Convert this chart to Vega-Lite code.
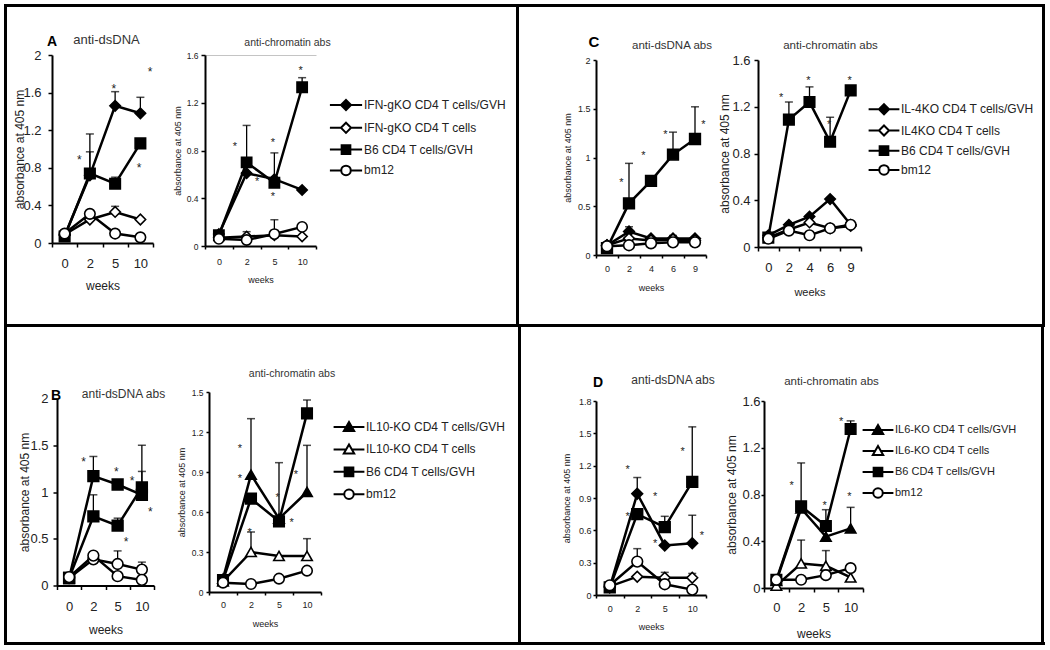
{
"$schema":"https://vega.github.io/schema/vega-lite/v6.json",
"padding":{"left":4,"top":4,"right":0,"bottom":0},
"background":"white",
"config":{
 "font":"Liberation Sans",
 "view":{"stroke":null},
 "concat":{"spacing":0},
 "axis":{"domainColor":"black","domainWidth":2,"tickColor":"black","tickWidth":1.5,"labelColor":"#222","titleColor":"#222","titleFontWeight":"normal","grid":false,"labelFont":"Liberation Sans","titleFont":"Liberation Sans","labelOverlap":false},
 "legend":{"labelFont":"Liberation Sans"},
 "title":{"font":"Liberation Sans"},
 "text":{"font":"Liberation Sans"}
},
"datasets":{
"obs":[
{"panel":"A","assay":"ds","series":"IFN-gKO CD4 T cells/GVH","week":0,"value":0.08},
{"panel":"A","assay":"ds","series":"IFN-gKO CD4 T cells/GVH","week":2,"value":0.72,"upper":0.97},
{"panel":"A","assay":"ds","series":"IFN-gKO CD4 T cells/GVH","week":5,"value":1.46,"upper":1.61},
{"panel":"A","assay":"ds","series":"IFN-gKO CD4 T cells/GVH","week":10,"value":1.38,"upper":1.55},
{"panel":"A","assay":"ds","series":"IFN-gKO CD4 T cells","week":0,"value":0.09},
{"panel":"A","assay":"ds","series":"IFN-gKO CD4 T cells","week":2,"value":0.25},
{"panel":"A","assay":"ds","series":"IFN-gKO CD4 T cells","week":5,"value":0.33,"upper":0.39},
{"panel":"A","assay":"ds","series":"IFN-gKO CD4 T cells","week":10,"value":0.25},
{"panel":"A","assay":"ds","series":"B6 CD4 T cells/GVH","week":0,"value":0.07},
{"panel":"A","assay":"ds","series":"B6 CD4 T cells/GVH","week":2,"value":0.74,"upper":1.16},
{"panel":"A","assay":"ds","series":"B6 CD4 T cells/GVH","week":5,"value":0.63,"upper":0.7},
{"panel":"A","assay":"ds","series":"B6 CD4 T cells/GVH","week":10,"value":1.06},
{"panel":"A","assay":"ds","series":"bm12","week":0,"value":0.1},
{"panel":"A","assay":"ds","series":"bm12","week":2,"value":0.31},
{"panel":"A","assay":"ds","series":"bm12","week":5,"value":0.1},
{"panel":"A","assay":"ds","series":"bm12","week":10,"value":0.06},
{"panel":"A","assay":"ch","series":"IFN-gKO CD4 T cells/GVH","week":0,"value":0.1},
{"panel":"A","assay":"ch","series":"IFN-gKO CD4 T cells/GVH","week":2,"value":0.61},
{"panel":"A","assay":"ch","series":"IFN-gKO CD4 T cells/GVH","week":5,"value":0.56},
{"panel":"A","assay":"ch","series":"IFN-gKO CD4 T cells/GVH","week":10,"value":0.47},
{"panel":"A","assay":"ch","series":"IFN-gKO CD4 T cells","week":0,"value":0.07},
{"panel":"A","assay":"ch","series":"IFN-gKO CD4 T cells","week":2,"value":0.08,"upper":0.12},
{"panel":"A","assay":"ch","series":"IFN-gKO CD4 T cells","week":5,"value":0.09},
{"panel":"A","assay":"ch","series":"IFN-gKO CD4 T cells","week":10,"value":0.08},
{"panel":"A","assay":"ch","series":"B6 CD4 T cells/GVH","week":0,"value":0.09},
{"panel":"A","assay":"ch","series":"B6 CD4 T cells/GVH","week":2,"value":0.7,"upper":1.01},
{"panel":"A","assay":"ch","series":"B6 CD4 T cells/GVH","week":5,"value":0.53,"upper":0.78},
{"panel":"A","assay":"ch","series":"B6 CD4 T cells/GVH","week":10,"value":1.33,"upper":1.41},
{"panel":"A","assay":"ch","series":"bm12","week":0,"value":0.06},
{"panel":"A","assay":"ch","series":"bm12","week":2,"value":0.05},
{"panel":"A","assay":"ch","series":"bm12","week":5,"value":0.1,"upper":0.22},
{"panel":"A","assay":"ch","series":"bm12","week":10,"value":0.16},
{"panel":"C","assay":"ds","series":"IL-4KO CD4 T cells/GVH","week":0,"value":0.1},
{"panel":"C","assay":"ds","series":"IL-4KO CD4 T cells/GVH","week":2,"value":0.24,"upper":0.29},
{"panel":"C","assay":"ds","series":"IL-4KO CD4 T cells/GVH","week":4,"value":0.17},
{"panel":"C","assay":"ds","series":"IL-4KO CD4 T cells/GVH","week":6,"value":0.17,"upper":0.2},
{"panel":"C","assay":"ds","series":"IL-4KO CD4 T cells/GVH","week":9,"value":0.17},
{"panel":"C","assay":"ds","series":"IL4KO CD4 T cells","week":0,"value":0.1},
{"panel":"C","assay":"ds","series":"IL4KO CD4 T cells","week":2,"value":0.17},
{"panel":"C","assay":"ds","series":"IL4KO CD4 T cells","week":4,"value":0.15},
{"panel":"C","assay":"ds","series":"IL4KO CD4 T cells","week":6,"value":0.16},
{"panel":"C","assay":"ds","series":"IL4KO CD4 T cells","week":9,"value":0.15},
{"panel":"C","assay":"ds","series":"B6 CD4 T cells/GVH","week":0,"value":0.07},
{"panel":"C","assay":"ds","series":"B6 CD4 T cells/GVH","week":2,"value":0.53,"upper":0.94},
{"panel":"C","assay":"ds","series":"B6 CD4 T cells/GVH","week":4,"value":0.76},
{"panel":"C","assay":"ds","series":"B6 CD4 T cells/GVH","week":6,"value":1.03,"upper":1.26},
{"panel":"C","assay":"ds","series":"B6 CD4 T cells/GVH","week":9,"value":1.19,"upper":1.52},
{"panel":"C","assay":"ds","series":"bm12","week":0,"value":0.09},
{"panel":"C","assay":"ds","series":"bm12","week":2,"value":0.1},
{"panel":"C","assay":"ds","series":"bm12","week":4,"value":0.12},
{"panel":"C","assay":"ds","series":"bm12","week":6,"value":0.13},
{"panel":"C","assay":"ds","series":"bm12","week":9,"value":0.13},
{"panel":"C","assay":"ch","series":"IL-4KO CD4 T cells/GVH","week":0,"value":0.1},
{"panel":"C","assay":"ch","series":"IL-4KO CD4 T cells/GVH","week":2,"value":0.19},
{"panel":"C","assay":"ch","series":"IL-4KO CD4 T cells/GVH","week":4,"value":0.26},
{"panel":"C","assay":"ch","series":"IL-4KO CD4 T cells/GVH","week":6,"value":0.41},
{"panel":"C","assay":"ch","series":"IL-4KO CD4 T cells/GVH","week":9,"value":0.19},
{"panel":"C","assay":"ch","series":"IL4KO CD4 T cells","week":0,"value":0.08},
{"panel":"C","assay":"ch","series":"IL4KO CD4 T cells","week":2,"value":0.15},
{"panel":"C","assay":"ch","series":"IL4KO CD4 T cells","week":4,"value":0.21},
{"panel":"C","assay":"ch","series":"IL4KO CD4 T cells","week":6,"value":0.16},
{"panel":"C","assay":"ch","series":"IL4KO CD4 T cells","week":9,"value":0.18},
{"panel":"C","assay":"ch","series":"B6 CD4 T cells/GVH","week":0,"value":0.08},
{"panel":"C","assay":"ch","series":"B6 CD4 T cells/GVH","week":2,"value":1.09,"upper":1.24},
{"panel":"C","assay":"ch","series":"B6 CD4 T cells/GVH","week":4,"value":1.24,"upper":1.37},
{"panel":"C","assay":"ch","series":"B6 CD4 T cells/GVH","week":6,"value":0.9,"upper":1.11},
{"panel":"C","assay":"ch","series":"B6 CD4 T cells/GVH","week":9,"value":1.34},
{"panel":"C","assay":"ch","series":"bm12","week":0,"value":0.07},
{"panel":"C","assay":"ch","series":"bm12","week":2,"value":0.14},
{"panel":"C","assay":"ch","series":"bm12","week":4,"value":0.1},
{"panel":"C","assay":"ch","series":"bm12","week":6,"value":0.16},
{"panel":"C","assay":"ch","series":"bm12","week":9,"value":0.19},
{"panel":"B","assay":"ds","series":"IL10-KO CD4 T cells/GVH","week":0,"value":0.08},
{"panel":"B","assay":"ds","series":"IL10-KO CD4 T cells/GVH","week":2,"value":1.17,"upper":1.38},
{"panel":"B","assay":"ds","series":"IL10-KO CD4 T cells/GVH","week":5,"value":1.08},
{"panel":"B","assay":"ds","series":"IL10-KO CD4 T cells/GVH","week":10,"value":0.97,"upper":1.22},
{"panel":"B","assay":"ds","series":"IL10-KO CD4 T cells","week":0,"value":0.08},
{"panel":"B","assay":"ds","series":"IL10-KO CD4 T cells","week":2,"value":0.28},
{"panel":"B","assay":"ds","series":"IL10-KO CD4 T cells","week":5,"value":0.23,"upper":0.37},
{"panel":"B","assay":"ds","series":"IL10-KO CD4 T cells","week":10,"value":0.17,"upper":0.25},
{"panel":"B","assay":"ds","series":"B6 CD4 T cells/GVH","week":0,"value":0.08},
{"panel":"B","assay":"ds","series":"B6 CD4 T cells/GVH","week":2,"value":0.74,"upper":0.97},
{"panel":"B","assay":"ds","series":"B6 CD4 T cells/GVH","week":5,"value":0.64,"upper":0.72},
{"panel":"B","assay":"ds","series":"B6 CD4 T cells/GVH","week":10,"value":1.05,"upper":1.5},
{"panel":"B","assay":"ds","series":"bm12","week":0,"value":0.09},
{"panel":"B","assay":"ds","series":"bm12","week":2,"value":0.32},
{"panel":"B","assay":"ds","series":"bm12","week":5,"value":0.1},
{"panel":"B","assay":"ds","series":"bm12","week":10,"value":0.06},
{"panel":"B","assay":"ch","series":"IL10-KO CD4 T cells/GVH","week":0,"value":0.1},
{"panel":"B","assay":"ch","series":"IL10-KO CD4 T cells/GVH","week":2,"value":0.88,"upper":1.3},
{"panel":"B","assay":"ch","series":"IL10-KO CD4 T cells/GVH","week":5,"value":0.55},
{"panel":"B","assay":"ch","series":"IL10-KO CD4 T cells/GVH","week":10,"value":0.75,"upper":1.1},
{"panel":"B","assay":"ch","series":"IL10-KO CD4 T cells","week":0,"value":0.08},
{"panel":"B","assay":"ch","series":"IL10-KO CD4 T cells","week":2,"value":0.3,"upper":0.45},
{"panel":"B","assay":"ch","series":"IL10-KO CD4 T cells","week":5,"value":0.27},
{"panel":"B","assay":"ch","series":"IL10-KO CD4 T cells","week":10,"value":0.27,"upper":0.4},
{"panel":"B","assay":"ch","series":"B6 CD4 T cells/GVH","week":0,"value":0.09},
{"panel":"B","assay":"ch","series":"B6 CD4 T cells/GVH","week":2,"value":0.7},
{"panel":"B","assay":"ch","series":"B6 CD4 T cells/GVH","week":5,"value":0.53,"upper":0.97},
{"panel":"B","assay":"ch","series":"B6 CD4 T cells/GVH","week":10,"value":1.34,"upper":1.44},
{"panel":"B","assay":"ch","series":"bm12","week":0,"value":0.07},
{"panel":"B","assay":"ch","series":"bm12","week":2,"value":0.06},
{"panel":"B","assay":"ch","series":"bm12","week":5,"value":0.1},
{"panel":"B","assay":"ch","series":"bm12","week":10,"value":0.16},
{"panel":"D","assay":"ds","series":"IL6-KO CD4 T cells/GVH","week":0,"value":0.07},
{"panel":"D","assay":"ds","series":"IL6-KO CD4 T cells/GVH","week":2,"value":0.94,"upper":1.09},
{"panel":"D","assay":"ds","series":"IL6-KO CD4 T cells/GVH","week":5,"value":0.46},
{"panel":"D","assay":"ds","series":"IL6-KO CD4 T cells/GVH","week":10,"value":0.48,"upper":0.74},
{"panel":"D","assay":"ds","series":"IL6-KO CD4 T cells","week":0,"value":0.08},
{"panel":"D","assay":"ds","series":"IL6-KO CD4 T cells","week":2,"value":0.17},
{"panel":"D","assay":"ds","series":"IL6-KO CD4 T cells","week":5,"value":0.16,"upper":0.21},
{"panel":"D","assay":"ds","series":"IL6-KO CD4 T cells","week":10,"value":0.16,"upper":0.2},
{"panel":"D","assay":"ds","series":"B6 CD4 T cells/GVH","week":0,"value":0.07},
{"panel":"D","assay":"ds","series":"B6 CD4 T cells/GVH","week":2,"value":0.75},
{"panel":"D","assay":"ds","series":"B6 CD4 T cells/GVH","week":5,"value":0.63,"upper":0.73},
{"panel":"D","assay":"ds","series":"B6 CD4 T cells/GVH","week":10,"value":1.05,"upper":1.56},
{"panel":"D","assay":"ds","series":"bm12","week":0,"value":0.09},
{"panel":"D","assay":"ds","series":"bm12","week":2,"value":0.31,"upper":0.43},
{"panel":"D","assay":"ds","series":"bm12","week":5,"value":0.1},
{"panel":"D","assay":"ds","series":"bm12","week":10,"value":0.05},
{"panel":"D","assay":"ch","series":"IL6-KO CD4 T cells/GVH","week":0,"value":0.06},
{"panel":"D","assay":"ch","series":"IL6-KO CD4 T cells/GVH","week":2,"value":0.68},
{"panel":"D","assay":"ch","series":"IL6-KO CD4 T cells/GVH","week":5,"value":0.44},
{"panel":"D","assay":"ch","series":"IL6-KO CD4 T cells/GVH","week":10,"value":0.51,"upper":0.69},
{"panel":"D","assay":"ch","series":"IL6-KO CD4 T cells","week":0,"value":0.02},
{"panel":"D","assay":"ch","series":"IL6-KO CD4 T cells","week":2,"value":0.21,"upper":0.41},
{"panel":"D","assay":"ch","series":"IL6-KO CD4 T cells","week":5,"value":0.19,"upper":0.32},
{"panel":"D","assay":"ch","series":"IL6-KO CD4 T cells","week":10,"value":0.09},
{"panel":"D","assay":"ch","series":"B6 CD4 T cells/GVH","week":0,"value":0.07},
{"panel":"D","assay":"ch","series":"B6 CD4 T cells/GVH","week":2,"value":0.7,"upper":1.07},
{"panel":"D","assay":"ch","series":"B6 CD4 T cells/GVH","week":5,"value":0.53,"upper":0.67},
{"panel":"D","assay":"ch","series":"B6 CD4 T cells/GVH","week":10,"value":1.36,"upper":1.43},
{"panel":"D","assay":"ch","series":"bm12","week":0,"value":0.07},
{"panel":"D","assay":"ch","series":"bm12","week":2,"value":0.07},
{"panel":"D","assay":"ch","series":"bm12","week":5,"value":0.11},
{"panel":"D","assay":"ch","series":"bm12","week":10,"value":0.17}
],
"stars":[
{"panel":"A","assay":"ds","week":2,"side":"l","value":0.9},
{"panel":"A","assay":"ds","week":5,"side":"c","value":1.66},
{"panel":"A","assay":"ds","week":10,"side":"r","value":1.84},
{"panel":"A","assay":"ds","week":10,"side":"c","value":0.82},
{"panel":"A","assay":"ch","week":2,"side":"l","value":0.85},
{"panel":"A","assay":"ch","week":2,"side":"r","value":0.55},
{"panel":"A","assay":"ch","week":5,"side":"c","value":0.88},
{"panel":"A","assay":"ch","week":5,"side":"c","value":0.43},
{"panel":"A","assay":"ch","week":10,"side":"c","value":1.48},
{"panel":"C","assay":"ds","week":2,"side":"l","value":0.76},
{"panel":"C","assay":"ds","week":4,"side":"l","value":1.04},
{"panel":"C","assay":"ds","week":6,"side":"l","value":1.25},
{"panel":"C","assay":"ds","week":9,"side":"r","value":1.35},
{"panel":"C","assay":"ch","week":2,"side":"l","value":1.29},
{"panel":"C","assay":"ch","week":4,"side":"c","value":1.44},
{"panel":"C","assay":"ch","week":6,"side":"c","value":1.06},
{"panel":"C","assay":"ch","week":9,"side":"c","value":1.44},
{"panel":"B","assay":"ds","week":2,"side":"l","value":1.34},
{"panel":"B","assay":"ds","week":5,"side":"c","value":1.24},
{"panel":"B","assay":"ds","week":10,"side":"l","value":1.14},
{"panel":"B","assay":"ds","week":10,"side":"r","value":0.81},
{"panel":"B","assay":"ds","week":5,"side":"r","value":0.49},
{"panel":"B","assay":"ch","week":2,"side":"l","value":1.09},
{"panel":"B","assay":"ch","week":2,"side":"l","value":0.86},
{"panel":"B","assay":"ch","week":2,"side":"c","value":0.46},
{"panel":"B","assay":"ch","week":5,"side":"c","value":0.72},
{"panel":"B","assay":"ch","week":5,"side":"r","value":0.53},
{"panel":"B","assay":"ch","week":10,"side":"l","value":0.89},
{"panel":"D","assay":"ds","week":2,"side":"l","value":1.18},
{"panel":"D","assay":"ds","week":2,"side":"l","value":0.74},
{"panel":"D","assay":"ds","week":5,"side":"l","value":0.93},
{"panel":"D","assay":"ds","week":5,"side":"l","value":0.49},
{"panel":"D","assay":"ds","week":10,"side":"l","value":1.35},
{"panel":"D","assay":"ds","week":10,"side":"r","value":0.57},
{"panel":"D","assay":"ch","week":2,"side":"l","value":0.89},
{"panel":"D","assay":"ch","week":5,"side":"c","value":0.72},
{"panel":"D","assay":"ch","week":10,"side":"l","value":1.44},
{"panel":"D","assay":"ch","week":10,"side":"c","value":0.8}
]
},
"spacing":0,
"vconcat":[
{"width":1041,"height":3,"view":{"fill":"black","stroke":null},"data":{"values":[]},"mark":"rule","encoding":{}},
{"spacing":0,"hconcat":[
 {"width":3,"height":317,"view":{"fill":"black","stroke":null},"data":{"values":[]},"mark":"rule","encoding":{}},
 {"width":6,"height":1,"data":{"values":[]},"mark":"rule","encoding":{}},
 {"spacing":0,"vconcat":[
  {"width":1,"height":26,"data":{"values":[]},"mark":"rule","encoding":{}},
  {"spacing":52,"bounds":"flush","center":false,"hconcat":[
   {"width":101,"height":188,
    "title":{"text":"anti-dsDNA","fontSize":13,"fontWeight":"normal","color":"#333","frame":"group","anchor":"middle","offset":-12,"dx":4},
    "data":{"name":"obs"},
    "transform":[{"filter":"datum.panel==='A' && datum.assay==='ds'"}],
    "encoding":{
     "x":{"field":"week","type":"ordinal","title":"weeks","bandPosition":0.5,"scale":{"type":"band","paddingInner":0,"paddingOuter":0},"axis":{"title":"weeks","labelAngle":0,"tickBand":"extent","tickSize":4,"labelPadding":10,"labelFontSize":13,"titleFontSize":12,"titlePadding":10}},
     "y":{"field":"value","type":"quantitative","title":"absorbance at 405 nm","scale":{"domain":[0,2],"nice":false},"axis":{"title":"absorbance at 405 nm","values":[0,0.4,0.8,1.2,1.6,2],"format":"~g","tickSize":4,"labelPadding":7,"labelFontSize":13,"titleFontSize":12,"titlePadding":-4}}
    },
    "layer":[
     {"transform":[{"filter":"isValid(datum.upper)"}],"mark":{"type":"rule","color":"black","strokeWidth":1.3},"encoding":{"y2":{"field":"upper"}}},
     {"transform":[{"filter":"isValid(datum.upper)"}],"mark":{"type":"tick","color":"black","thickness":1.5,"size":8},"encoding":{"y":{"field":"upper","type":"quantitative","title":"absorbance at 405 nm"}}},
     {"mark":{"type":"line","color":"black","strokeWidth":2.5},"encoding":{"detail":{"field":"series"}}},
     {"mark":{"type":"point","stroke":"black","strokeWidth":1.6,"opacity":1,"size":110},"encoding":{
       "shape":{"field":"series","type":"nominal","scale":{"domain":["IFN-gKO CD4 T cells/GVH","IFN-gKO CD4 T cells","B6 CD4 T cells/GVH","bm12"],"range":["diamond","diamond","square","circle"]},"legend":null},
       "fill":{"field":"series","type":"nominal","scale":{"domain":["IFN-gKO CD4 T cells/GVH","IFN-gKO CD4 T cells","B6 CD4 T cells/GVH","bm12"],"range":["black","white","black","white"]},"legend":null}}},
     {"data":{"name":"stars"},"transform":[{"filter":"datum.panel==='A' && datum.assay==='ds' && datum.side==='l'"}],"mark":{"type":"text","text":"*","fontSize":12,"color":"#222","baseline":"middle","dy":2},"encoding":{"x":{"field":"week","type":"ordinal","title":"weeks","bandPosition":0.08}}},
     {"data":{"name":"stars"},"transform":[{"filter":"datum.panel==='A' && datum.assay==='ds' && datum.side==='c'"}],"mark":{"type":"text","text":"*","fontSize":12,"color":"#222","baseline":"middle","dy":2},"encoding":{"x":{"field":"week","type":"ordinal","title":"weeks","bandPosition":0.45}}},
     {"data":{"name":"stars"},"transform":[{"filter":"datum.panel==='A' && datum.assay==='ds' && datum.side==='r'"}],"mark":{"type":"text","text":"*","fontSize":12,"color":"#222","baseline":"middle","dy":2},"encoding":{"x":{"field":"week","type":"ordinal","title":"weeks","bandPosition":0.88}}},
     {"transform":[{"filter":"datum.week===0 && datum.series==='bm12'"}],"mark":{"type":"text","text":"A","fontSize":14,"fontWeight":"bold","color":"black","baseline":"middle","align":"center","dx":0},"encoding":{"x":{"field":"week","type":"ordinal","title":"weeks","bandPosition":0},"y":{"datum":2.14,"title":"absorbance at 405 nm"}}}
    ]},
   {"width":111,"height":191,
    "title":{"text":"anti-chromatin abs","fontSize":10.5,"fontWeight":"normal","color":"#333","frame":"group","anchor":"middle","offset":2.75,"dx":27},
    "data":{"name":"obs"},
    "transform":[{"filter":"datum.panel==='A' && datum.assay==='ch'"}],
    "encoding":{
     "x":{"field":"week","type":"ordinal","title":"weeks","bandPosition":0.5,"scale":{"type":"band","paddingInner":0,"paddingOuter":0},"axis":{"title":"weeks","labelAngle":0,"tickBand":"extent","tickSize":3,"labelPadding":8,"labelFontSize":9,"titleFontSize":9,"titlePadding":9}},
     "y":{"field":"value","type":"quantitative","title":"absorbance at 405 nm","scale":{"domain":[0,1.6],"nice":false},"axis":{"title":"absorbance at 405 nm","values":[0,0.4,0.8,1.2,1.6],"format":"~g","tickSize":4,"labelPadding":3,"labelFontSize":8.5,"titleFontSize":9,"titlePadding":4,"grid":true,"gridColor":"#c4c4c4","gridWidth":1,"gridOpacity":{"condition":{"test":"datum.value === 1.6","value":1},"value":0}}}
    },
    "resolve":{"scale":{"shape":"independent","fill":"independent"}},
    "layer":[
     {"transform":[{"filter":"isValid(datum.upper)"}],"mark":{"type":"rule","color":"black","strokeWidth":1.3},"encoding":{"y2":{"field":"upper"}}},
     {"transform":[{"filter":"isValid(datum.upper)"}],"mark":{"type":"tick","color":"black","thickness":1.5,"size":8},"encoding":{"y":{"field":"upper","type":"quantitative","title":"absorbance at 405 nm"}}},
     {"mark":{"type":"line","color":"black","strokeWidth":2.5},"encoding":{"detail":{"field":"series"}}},
     {"mark":{"type":"point","stroke":"black","strokeWidth":1.6,"opacity":1,"size":105},"encoding":{
       "shape":{"field":"series","type":"nominal","scale":{"domain":["IFN-gKO CD4 T cells/GVH","IFN-gKO CD4 T cells","B6 CD4 T cells/GVH","bm12"],"range":["diamond","diamond","square","circle"]},"legend":null},
       "fill":{"field":"series","type":"nominal","scale":{"domain":["IFN-gKO CD4 T cells/GVH","IFN-gKO CD4 T cells","B6 CD4 T cells/GVH","bm12"],"range":["black","white","black","white"]},"legend":null}}},
     {"data":{"name":"stars"},"transform":[{"filter":"datum.panel==='A' && datum.assay==='ch' && datum.side==='l'"}],"mark":{"type":"text","text":"*","fontSize":11,"color":"#222","baseline":"middle","dy":2},"encoding":{"x":{"field":"week","type":"ordinal","title":"weeks","bandPosition":0.08}}},
     {"data":{"name":"stars"},"transform":[{"filter":"datum.panel==='A' && datum.assay==='ch' && datum.side==='c'"}],"mark":{"type":"text","text":"*","fontSize":11,"color":"#222","baseline":"middle","dy":2},"encoding":{"x":{"field":"week","type":"ordinal","title":"weeks","bandPosition":0.45}}},
     {"data":{"name":"stars"},"transform":[{"filter":"datum.panel==='A' && datum.assay==='ch' && datum.side==='r'"}],"mark":{"type":"text","text":"*","fontSize":11,"color":"#222","baseline":"middle","dy":2},"encoding":{"x":{"field":"week","type":"ordinal","title":"weeks","bandPosition":0.88}}},
     {"mark":{"type":"point","opacity":0,"stroke":"black"},"encoding":{
       "shape":{"field":"series","type":"nominal","scale":{"domain":["IFN-gKO CD4 T cells/GVH","IFN-gKO CD4 T cells","B6 CD4 T cells/GVH","bm12"],"range":["M-2.3,0L-0.72,0M0.72,0L2.3,0M0,-0.72L0.72,0L0,0.72L-0.72,0Z","M-2.3,0L-0.72,0M0.72,0L2.3,0M0,-0.72L0.72,0L0,0.72L-0.72,0Z","M-2.3,0L-0.62,0M0.62,0L2.3,0M-0.62,-0.62L0.62,-0.62L0.62,0.62L-0.62,0.62Z","M-2.3,0L-0.68,0M0.68,0L2.3,0M-0.68,0A0.68,0.68,0,1,1,0.68,0A0.68,0.68,0,1,1,-0.68,0Z"]},
         "legend":{"title":null,"orient":"none","legendX":133,"legendY":42,"symbolSize":196,"symbolStrokeWidth":2,"symbolStrokeColor":"black","symbolOpacity":1,"labelFontSize":12,"labelColor":"#222","labelOffset":10,"rowPadding":2.8,"labelLimit":400,"padding":0,"encode":{"symbols":{"update":{"stroke":{"value":"black"},"strokeWidth":{"value":2},"opacity":{"value":1}}}}}},
       "fill":{"field":"series","type":"nominal","scale":{"domain":["IFN-gKO CD4 T cells/GVH","IFN-gKO CD4 T cells","B6 CD4 T cells/GVH","bm12"],"range":["black","white","black","white"]},
         "legend":{"title":null,"orient":"none","legendX":133,"legendY":42,"symbolSize":196,"symbolStrokeWidth":2,"symbolStrokeColor":"black","symbolOpacity":1,"labelFontSize":12,"labelColor":"#222","labelOffset":10,"rowPadding":2.8,"labelLimit":400,"padding":0,"encode":{"symbols":{"update":{"stroke":{"value":"black"},"strokeWidth":{"value":2},"opacity":{"value":1}}}}}}}}
    ]}
  ]}
 ]},
 {"width":9,"height":1,"data":{"values":[]},"mark":"rule","encoding":{}},
 {"width":3,"height":317,"view":{"fill":"black","stroke":null},"data":{"values":[]},"mark":"rule","encoding":{}},
 {"width":44,"height":1,"data":{"values":[]},"mark":"rule","encoding":{}},
 {"spacing":0,"vconcat":[
  {"width":1,"height":28,"data":{"values":[]},"mark":"rule","encoding":{}},
  {"spacing":52,"bounds":"flush","center":false,"hconcat":[
   {"width":110,"height":195,
    "title":{"text":"anti-dsDNA abs","fontSize":11.5,"fontWeight":"normal","color":"#333","frame":"group","anchor":"middle","offset":-16.5,"dx":21},
    "data":{"name":"obs"},
    "transform":[{"filter":"datum.panel==='C' && datum.assay==='ds'"}],
    "encoding":{
     "x":{"field":"week","type":"ordinal","title":"weeks","bandPosition":0.5,"scale":{"type":"band","paddingInner":0,"paddingOuter":0},"axis":{"title":"weeks","labelAngle":0,"tickBand":"extent","tickSize":3,"labelPadding":6,"labelFontSize":9,"titleFontSize":9,"titlePadding":10}},
     "y":{"field":"value","type":"quantitative","title":"absorbance at 405 nm","scale":{"domain":[0,2],"nice":false},"axis":{"title":"absorbance at 405 nm","values":[0,0.5,1,1.5,2],"format":"~g","tickSize":3,"labelPadding":3,"labelFontSize":9,"titleFontSize":9,"titlePadding":5}}
    },
    "layer":[
     {"transform":[{"filter":"isValid(datum.upper)"}],"mark":{"type":"rule","color":"black","strokeWidth":1.3},"encoding":{"y2":{"field":"upper"}}},
     {"transform":[{"filter":"isValid(datum.upper)"}],"mark":{"type":"tick","color":"black","thickness":1.5,"size":8},"encoding":{"y":{"field":"upper","type":"quantitative","title":"absorbance at 405 nm"}}},
     {"mark":{"type":"line","color":"black","strokeWidth":2.5},"encoding":{"detail":{"field":"series"}}},
     {"mark":{"type":"point","stroke":"black","strokeWidth":1.6,"opacity":1,"size":115},"encoding":{
       "shape":{"field":"series","type":"nominal","scale":{"domain":["IL-4KO CD4 T cells/GVH","IL4KO CD4 T cells","B6 CD4 T cells/GVH","bm12"],"range":["diamond","diamond","square","circle"]},"legend":null},
       "fill":{"field":"series","type":"nominal","scale":{"domain":["IL-4KO CD4 T cells/GVH","IL4KO CD4 T cells","B6 CD4 T cells/GVH","bm12"],"range":["black","white","black","white"]},"legend":null}}},
     {"data":{"name":"stars"},"transform":[{"filter":"datum.panel==='C' && datum.assay==='ds' && datum.side==='l'"}],"mark":{"type":"text","text":"*","fontSize":11,"color":"#222","baseline":"middle","dy":2},"encoding":{"x":{"field":"week","type":"ordinal","title":"weeks","bandPosition":0.15}}},
     {"data":{"name":"stars"},"transform":[{"filter":"datum.panel==='C' && datum.assay==='ds' && datum.side==='c'"}],"mark":{"type":"text","text":"*","fontSize":11,"color":"#222","baseline":"middle","dy":2},"encoding":{"x":{"field":"week","type":"ordinal","title":"weeks","bandPosition":0.45}}},
     {"data":{"name":"stars"},"transform":[{"filter":"datum.panel==='C' && datum.assay==='ds' && datum.side==='r'"}],"mark":{"type":"text","text":"*","fontSize":11,"color":"#222","baseline":"middle","dy":2},"encoding":{"x":{"field":"week","type":"ordinal","title":"weeks","bandPosition":0.88}}},
     {"transform":[{"filter":"datum.week===0 && datum.series==='bm12'"}],"mark":{"type":"text","text":"C","fontSize":15,"fontWeight":"bold","color":"black","baseline":"middle","align":"center","dx":-2},"encoding":{"x":{"field":"week","type":"ordinal","title":"weeks","bandPosition":0},"y":{"datum":2.18,"title":"absorbance at 405 nm"}}}
    ]},
   {"width":103,"height":187,
    "title":{"text":"anti-chromatin abs","fontSize":11.5,"fontWeight":"normal","color":"#333","frame":"group","anchor":"middle","offset":3,"dx":21},
    "data":{"name":"obs"},
    "transform":[{"filter":"datum.panel==='C' && datum.assay==='ch'"}],
    "encoding":{
     "x":{"field":"week","type":"ordinal","title":"weeks","bandPosition":0.5,"scale":{"type":"band","paddingInner":0,"paddingOuter":0},"axis":{"title":"weeks","labelAngle":0,"tickBand":"extent","tickSize":4,"labelPadding":10,"labelFontSize":13,"titleFontSize":11,"titlePadding":12}},
     "y":{"field":"value","type":"quantitative","title":"absorbance at 405 nm","scale":{"domain":[0,1.6],"nice":false},"axis":{"title":"absorbance at 405 nm","values":[0,0.4,0.8,1.2,1.6],"format":"~g","tickSize":4,"labelPadding":4,"labelFontSize":13,"titleFontSize":12,"titlePadding":0}}
    },
    "resolve":{"scale":{"shape":"independent","fill":"independent"}},
    "layer":[
     {"transform":[{"filter":"isValid(datum.upper)"}],"mark":{"type":"rule","color":"black","strokeWidth":1.3},"encoding":{"y2":{"field":"upper"}}},
     {"transform":[{"filter":"isValid(datum.upper)"}],"mark":{"type":"tick","color":"black","thickness":1.5,"size":8},"encoding":{"y":{"field":"upper","type":"quantitative","title":"absorbance at 405 nm"}}},
     {"mark":{"type":"line","color":"black","strokeWidth":2.5},"encoding":{"detail":{"field":"series"}}},
     {"mark":{"type":"point","stroke":"black","strokeWidth":1.6,"opacity":1,"size":110},"encoding":{
       "shape":{"field":"series","type":"nominal","scale":{"domain":["IL-4KO CD4 T cells/GVH","IL4KO CD4 T cells","B6 CD4 T cells/GVH","bm12"],"range":["diamond","diamond","square","circle"]},"legend":null},
       "fill":{"field":"series","type":"nominal","scale":{"domain":["IL-4KO CD4 T cells/GVH","IL4KO CD4 T cells","B6 CD4 T cells/GVH","bm12"],"range":["black","white","black","white"]},"legend":null}}},
     {"data":{"name":"stars"},"transform":[{"filter":"datum.panel==='C' && datum.assay==='ch' && datum.side==='l'"}],"mark":{"type":"text","text":"*","fontSize":11,"color":"#222","baseline":"middle","dy":2},"encoding":{"x":{"field":"week","type":"ordinal","title":"weeks","bandPosition":0.12}}},
     {"data":{"name":"stars"},"transform":[{"filter":"datum.panel==='C' && datum.assay==='ch' && datum.side==='c'"}],"mark":{"type":"text","text":"*","fontSize":11,"color":"#222","baseline":"middle","dy":2},"encoding":{"x":{"field":"week","type":"ordinal","title":"weeks","bandPosition":0.45}}},
     {"mark":{"type":"point","opacity":0,"stroke":"black"},"encoding":{
       "shape":{"field":"series","type":"nominal","scale":{"domain":["IL-4KO CD4 T cells/GVH","IL4KO CD4 T cells","B6 CD4 T cells/GVH","bm12"],"range":["M-2.2,0L-0.72,0M0.72,0L2.2,0M0,-0.72L0.72,0L0,0.72L-0.72,0Z","M-2.2,0L-0.72,0M0.72,0L2.2,0M0,-0.72L0.72,0L0,0.72L-0.72,0Z","M-2.2,0L-0.62,0M0.62,0L2.2,0M-0.62,-0.62L0.62,-0.62L0.62,0.62L-0.62,0.62Z","M-2.2,0L-0.68,0M0.68,0L2.2,0M-0.68,0A0.68,0.68,0,1,1,0.68,0A0.68,0.68,0,1,1,-0.68,0Z"]},
         "legend":{"title":null,"orient":"none","legendX":118,"legendY":41.3,"symbolSize":196,"symbolStrokeWidth":2,"symbolStrokeColor":"black","symbolOpacity":1,"labelFontSize":12,"labelColor":"#222","labelOffset":9,"rowPadding":1.2,"labelLimit":400,"padding":0,"encode":{"symbols":{"update":{"stroke":{"value":"black"},"strokeWidth":{"value":2},"opacity":{"value":1}}}}}},
       "fill":{"field":"series","type":"nominal","scale":{"domain":["IL-4KO CD4 T cells/GVH","IL4KO CD4 T cells","B6 CD4 T cells/GVH","bm12"],"range":["black","white","black","white"]},
         "legend":{"title":null,"orient":"none","legendX":118,"legendY":41.3,"symbolSize":196,"symbolStrokeWidth":2,"symbolStrokeColor":"black","symbolOpacity":1,"labelFontSize":12,"labelColor":"#222","labelOffset":9,"rowPadding":1.2,"labelLimit":400,"padding":0,"encode":{"symbols":{"update":{"stroke":{"value":"black"},"strokeWidth":{"value":2},"opacity":{"value":1}}}}}}}}
    ]}
  ]}
 ]},
 {"width":8,"height":1,"data":{"values":[]},"mark":"rule","encoding":{}},
 {"width":3,"height":317,"view":{"fill":"black","stroke":null},"data":{"values":[]},"mark":"rule","encoding":{}}
]},
{"width":1041,"height":3,"view":{"fill":"black","stroke":null},"data":{"values":[]},"mark":"rule","encoding":{}},
{"spacing":0,"hconcat":[
 {"width":3,"height":315,"view":{"fill":"black","stroke":null},"data":{"values":[]},"mark":"rule","encoding":{}},
 {"width":11,"height":1,"data":{"values":[]},"mark":"rule","encoding":{}},
 {"spacing":0,"vconcat":[
  {"width":1,"height":41,"data":{"values":[]},"mark":"rule","encoding":{}},
  {"spacing":55,"bounds":"flush","center":true,"hconcat":[
   {"width":97,"height":187,
    "title":{"text":"anti-dsDNA abs","fontSize":12,"fontWeight":"normal","color":"#333","frame":"group","anchor":"middle","offset":-12,"dx":18},
    "data":{"name":"obs"},
    "transform":[{"filter":"datum.panel==='B' && datum.assay==='ds'"}],
    "encoding":{
     "x":{"field":"week","type":"ordinal","title":"weeks","bandPosition":0.5,"scale":{"type":"band","paddingInner":0,"paddingOuter":0},"axis":{"title":"weeks","labelAngle":0,"tickBand":"extent","tickSize":4,"labelPadding":11,"labelFontSize":13,"titleFontSize":12,"titlePadding":11}},
     "y":{"field":"value","type":"quantitative","title":"absorbance at 405 nm","scale":{"domain":[0,2],"nice":false},"axis":{"title":"absorbance at 405 nm","values":[0,0.5,1,1.5,2],"format":"~g","tickSize":4,"labelPadding":5,"labelFontSize":13,"titleFontSize":12,"titlePadding":-2}}
    },
    "layer":[
     {"transform":[{"filter":"isValid(datum.upper)"}],"mark":{"type":"rule","color":"black","strokeWidth":1.3},"encoding":{"y2":{"field":"upper"}}},
     {"transform":[{"filter":"isValid(datum.upper)"}],"mark":{"type":"tick","color":"black","thickness":1.5,"size":8},"encoding":{"y":{"field":"upper","type":"quantitative","title":"absorbance at 405 nm"}}},
     {"mark":{"type":"line","color":"black","strokeWidth":2.5},"encoding":{"detail":{"field":"series"}}},
     {"mark":{"type":"point","stroke":"black","strokeWidth":1.6,"opacity":1,"size":115},"encoding":{
       "shape":{"field":"series","type":"nominal","scale":{"domain":["IL10-KO CD4 T cells/GVH","IL10-KO CD4 T cells","B6 CD4 T cells/GVH","bm12"],"range":["triangle-up","triangle-up","square","circle"]},"legend":null},
       "fill":{"field":"series","type":"nominal","scale":{"domain":["IL10-KO CD4 T cells/GVH","IL10-KO CD4 T cells","B6 CD4 T cells/GVH","bm12"],"range":["black","white","black","white"]},"legend":null}}},
     {"data":{"name":"stars"},"transform":[{"filter":"datum.panel==='B' && datum.assay==='ds' && datum.side==='l'"}],"mark":{"type":"text","text":"*","fontSize":12,"color":"#222","baseline":"middle","dy":2},"encoding":{"x":{"field":"week","type":"ordinal","title":"weeks","bandPosition":0.1}}},
     {"data":{"name":"stars"},"transform":[{"filter":"datum.panel==='B' && datum.assay==='ds' && datum.side==='c'"}],"mark":{"type":"text","text":"*","fontSize":12,"color":"#222","baseline":"middle","dy":2},"encoding":{"x":{"field":"week","type":"ordinal","title":"weeks","bandPosition":0.45}}},
     {"data":{"name":"stars"},"transform":[{"filter":"datum.panel==='B' && datum.assay==='ds' && datum.side==='r'"}],"mark":{"type":"text","text":"*","fontSize":12,"color":"#222","baseline":"middle","dy":2},"encoding":{"x":{"field":"week","type":"ordinal","title":"weeks","bandPosition":0.85}}},
     {"transform":[{"filter":"datum.week===0 && datum.series==='bm12'"}],"mark":{"type":"text","text":"B","fontSize":14,"fontWeight":"bold","color":"black","baseline":"middle","align":"center","dx":-1},"encoding":{"x":{"field":"week","type":"ordinal","title":"weeks","bandPosition":0},"y":{"datum":2.032,"title":"absorbance at 405 nm"}}}
    ]},
   {"width":112,"height":200,
    "title":{"text":"anti-chromatin abs","fontSize":10.5,"fontWeight":"normal","color":"#333","frame":"group","anchor":"middle","offset":9,"dx":27},
    "data":{"name":"obs"},
    "transform":[{"filter":"datum.panel==='B' && datum.assay==='ch'"}],
    "encoding":{
     "x":{"field":"week","type":"ordinal","title":"weeks","bandPosition":0.5,"scale":{"type":"band","paddingInner":0,"paddingOuter":0},"axis":{"title":"weeks","labelAngle":0,"tickBand":"extent","tickSize":3,"labelPadding":5,"labelFontSize":9,"titleFontSize":9,"titlePadding":10}},
     "y":{"field":"value","type":"quantitative","title":"absorbance at 405 nm","scale":{"domain":[0,1.5],"nice":false},"axis":{"title":"absorbance at 405 nm","values":[0,0.3,0.6,0.9,1.2,1.5],"format":"~g","tickSize":3,"labelPadding":3,"labelFontSize":8.5,"titleFontSize":9,"titlePadding":5}}
    },
    "resolve":{"scale":{"shape":"independent","fill":"independent"}},
    "layer":[
     {"transform":[{"filter":"isValid(datum.upper)"}],"mark":{"type":"rule","color":"black","strokeWidth":1.3},"encoding":{"y2":{"field":"upper"}}},
     {"transform":[{"filter":"isValid(datum.upper)"}],"mark":{"type":"tick","color":"black","thickness":1.5,"size":8},"encoding":{"y":{"field":"upper","type":"quantitative","title":"absorbance at 405 nm"}}},
     {"mark":{"type":"line","color":"black","strokeWidth":2.5},"encoding":{"detail":{"field":"series"}}},
     {"mark":{"type":"point","stroke":"black","strokeWidth":1.6,"opacity":1,"size":110},"encoding":{
       "shape":{"field":"series","type":"nominal","scale":{"domain":["IL10-KO CD4 T cells/GVH","IL10-KO CD4 T cells","B6 CD4 T cells/GVH","bm12"],"range":["triangle-up","triangle-up","square","circle"]},"legend":null},
       "fill":{"field":"series","type":"nominal","scale":{"domain":["IL10-KO CD4 T cells/GVH","IL10-KO CD4 T cells","B6 CD4 T cells/GVH","bm12"],"range":["black","white","black","white"]},"legend":null}}},
     {"data":{"name":"stars"},"transform":[{"filter":"datum.panel==='B' && datum.assay==='ch' && datum.side==='l'"}],"mark":{"type":"text","text":"*","fontSize":11,"color":"#222","baseline":"middle","dy":2},"encoding":{"x":{"field":"week","type":"ordinal","title":"weeks","bandPosition":0.1}}},
     {"data":{"name":"stars"},"transform":[{"filter":"datum.panel==='B' && datum.assay==='ch' && datum.side==='c'"}],"mark":{"type":"text","text":"*","fontSize":11,"color":"#222","baseline":"middle","dy":2},"encoding":{"x":{"field":"week","type":"ordinal","title":"weeks","bandPosition":0.45}}},
     {"data":{"name":"stars"},"transform":[{"filter":"datum.panel==='B' && datum.assay==='ch' && datum.side==='r'"}],"mark":{"type":"text","text":"*","fontSize":11,"color":"#222","baseline":"middle","dy":2},"encoding":{"x":{"field":"week","type":"ordinal","title":"weeks","bandPosition":0.95}}},
     {"mark":{"type":"point","opacity":0,"stroke":"black"},"encoding":{
       "shape":{"field":"series","type":"nominal","scale":{"domain":["IL10-KO CD4 T cells/GVH","IL10-KO CD4 T cells","B6 CD4 T cells/GVH","bm12"],"range":["M-2.2,0L-0.4,0M0.4,0L2.2,0M0,-0.7L0.74,0.58L-0.74,0.58Z","M-2.2,0L-0.4,0M0.4,0L2.2,0M0,-0.7L0.74,0.58L-0.74,0.58Z","M-2.2,0L-0.62,0M0.62,0L2.2,0M-0.62,-0.62L0.62,-0.62L0.62,0.62L-0.62,0.62Z","M-2.2,0L-0.68,0M0.68,0L2.2,0M-0.68,0A0.68,0.68,0,1,1,0.68,0A0.68,0.68,0,1,1,-0.68,0Z"]},
         "legend":{"title":null,"orient":"none","legendX":132,"legendY":27,"symbolSize":196,"symbolStrokeWidth":2,"symbolStrokeColor":"black","symbolOpacity":1,"labelFontSize":12,"labelColor":"#222","labelOffset":9,"rowPadding":4.4,"labelLimit":400,"padding":0,"encode":{"symbols":{"update":{"stroke":{"value":"black"},"strokeWidth":{"value":2},"opacity":{"value":1}}}}}},
       "fill":{"field":"series","type":"nominal","scale":{"domain":["IL10-KO CD4 T cells/GVH","IL10-KO CD4 T cells","B6 CD4 T cells/GVH","bm12"],"range":["black","white","black","white"]},
         "legend":{"title":null,"orient":"none","legendX":132,"legendY":27,"symbolSize":196,"symbolStrokeWidth":2,"symbolStrokeColor":"black","symbolOpacity":1,"labelFontSize":12,"labelColor":"#222","labelOffset":9,"rowPadding":4.4,"labelLimit":400,"padding":0,"encode":{"symbols":{"update":{"stroke":{"value":"black"},"strokeWidth":{"value":2},"opacity":{"value":1}}}}}}}}
    ]}
  ]}
 ]},
 {"width":12,"height":1,"data":{"values":[]},"mark":"rule","encoding":{}},
 {"width":3,"height":315,"view":{"fill":"black","stroke":null},"data":{"values":[]},"mark":"rule","encoding":{}},
 {"width":41,"height":1,"data":{"values":[]},"mark":"rule","encoding":{}},
 {"spacing":0,"vconcat":[
  {"width":1,"height":47,"data":{"values":[]},"mark":"rule","encoding":{}},
  {"spacing":58,"bounds":"flush","center":false,"hconcat":[
   {"width":110,"height":194,
    "title":{"text":"anti-dsDNA abs","fontSize":12,"fontWeight":"normal","color":"#333","frame":"group","anchor":"middle","offset":-11,"dx":22},
    "data":{"name":"obs"},
    "transform":[{"filter":"datum.panel==='D' && datum.assay==='ds'"}],
    "encoding":{
     "x":{"field":"week","type":"ordinal","title":"weeks","bandPosition":0.5,"scale":{"type":"band","paddingInner":0,"paddingOuter":0},"axis":{"title":"weeks","labelAngle":0,"tickBand":"extent","tickSize":3,"labelPadding":6,"labelFontSize":9,"titleFontSize":9,"titlePadding":9}},
     "y":{"field":"value","type":"quantitative","title":"absorbance at 405 nm","scale":{"domain":[0,1.8],"nice":false},"axis":{"title":"absorbance at 405 nm","values":[0,0.3,0.6,0.9,1.2,1.5,1.8],"format":"~g","tickSize":3,"labelPadding":2,"labelFontSize":9,"titleFontSize":9,"titlePadding":7}}
    },
    "layer":[
     {"transform":[{"filter":"isValid(datum.upper)"}],"mark":{"type":"rule","color":"black","strokeWidth":1.3},"encoding":{"y2":{"field":"upper"}}},
     {"transform":[{"filter":"isValid(datum.upper)"}],"mark":{"type":"tick","color":"black","thickness":1.5,"size":8},"encoding":{"y":{"field":"upper","type":"quantitative","title":"absorbance at 405 nm"}}},
     {"mark":{"type":"line","color":"black","strokeWidth":2.5},"encoding":{"detail":{"field":"series"}}},
     {"mark":{"type":"point","stroke":"black","strokeWidth":1.6,"opacity":1,"size":115},"encoding":{
       "shape":{"field":"series","type":"nominal","scale":{"domain":["IL6-KO CD4 T cells/GVH","IL6-KO CD4 T cells","B6 CD4 T cells/GVH","bm12"],"range":["triangle-up","triangle-up","square","circle"]},"legend":null},
       "fill":{"field":"series","type":"nominal","scale":{"domain":["IL6-KO CD4 T cells/GVH","IL6-KO CD4 T cells","B6 CD4 T cells/GVH","bm12"],"range":["black","white","black","white"]},"legend":null}}},
     {"data":{"name":"stars"},"transform":[{"filter":"datum.panel==='D' && datum.assay==='ds' && datum.side==='l'"}],"mark":{"type":"text","text":"*","fontSize":11,"color":"#222","baseline":"middle","dy":2},"encoding":{"x":{"field":"week","type":"ordinal","title":"weeks","bandPosition":0.15}}},
     {"data":{"name":"stars"},"transform":[{"filter":"datum.panel==='D' && datum.assay==='ds' && datum.side==='r'"}],"mark":{"type":"text","text":"*","fontSize":11,"color":"#222","baseline":"middle","dy":2},"encoding":{"x":{"field":"week","type":"ordinal","title":"weeks","bandPosition":0.85}}},
     {"transform":[{"filter":"datum.week===0 && datum.series==='bm12'"}],"mark":{"type":"text","text":"D","fontSize":14,"fontWeight":"bold","color":"black","baseline":"middle","align":"center","dx":2},"encoding":{"x":{"field":"week","type":"ordinal","title":"weeks","bandPosition":0},"y":{"datum":1.963,"title":"absorbance at 405 nm"}}}
    ]},
   {"width":99,"height":187,
    "title":{"text":"anti-chromatin abs","fontSize":11.5,"fontWeight":"normal","color":"#333","frame":"group","anchor":"middle","offset":7.5,"dx":18},
    "data":{"name":"obs"},
    "transform":[{"filter":"datum.panel==='D' && datum.assay==='ch'"}],
    "encoding":{
     "x":{"field":"week","type":"ordinal","title":"weeks","bandPosition":0.5,"scale":{"type":"band","paddingInner":0,"paddingOuter":0},"axis":{"title":"weeks","labelAngle":0,"tickBand":"extent","tickSize":4,"labelPadding":9,"labelFontSize":13,"titleFontSize":12,"titlePadding":14}},
     "y":{"field":"value","type":"quantitative","title":"absorbance at 405 nm","scale":{"domain":[0,1.6],"nice":false},"axis":{"title":"absorbance at 405 nm","values":[0,0.4,0.8,1.2,1.6],"format":"~g","tickSize":3,"labelPadding":1,"labelFontSize":13,"titleFontSize":12,"titlePadding":3}}
    },
    "resolve":{"scale":{"shape":"independent","fill":"independent"}},
    "layer":[
     {"transform":[{"filter":"isValid(datum.upper)"}],"mark":{"type":"rule","color":"black","strokeWidth":1.3},"encoding":{"y2":{"field":"upper"}}},
     {"transform":[{"filter":"isValid(datum.upper)"}],"mark":{"type":"tick","color":"black","thickness":1.5,"size":8},"encoding":{"y":{"field":"upper","type":"quantitative","title":"absorbance at 405 nm"}}},
     {"mark":{"type":"line","color":"black","strokeWidth":2.5},"encoding":{"detail":{"field":"series"}}},
     {"mark":{"type":"point","stroke":"black","strokeWidth":1.6,"opacity":1,"size":110},"encoding":{
       "shape":{"field":"series","type":"nominal","scale":{"domain":["IL6-KO CD4 T cells/GVH","IL6-KO CD4 T cells","B6 CD4 T cells/GVH","bm12"],"range":["triangle-up","triangle-up","square","circle"]},"legend":null},
       "fill":{"field":"series","type":"nominal","scale":{"domain":["IL6-KO CD4 T cells/GVH","IL6-KO CD4 T cells","B6 CD4 T cells/GVH","bm12"],"range":["black","white","black","white"]},"legend":null}}},
     {"data":{"name":"stars"},"transform":[{"filter":"datum.panel==='D' && datum.assay==='ch' && datum.side==='l'"}],"mark":{"type":"text","text":"*","fontSize":11,"color":"#222","baseline":"middle","dy":2},"encoding":{"x":{"field":"week","type":"ordinal","title":"weeks","bandPosition":0.12}}},
     {"data":{"name":"stars"},"transform":[{"filter":"datum.panel==='D' && datum.assay==='ch' && datum.side==='c'"}],"mark":{"type":"text","text":"*","fontSize":11,"color":"#222","baseline":"middle","dy":2},"encoding":{"x":{"field":"week","type":"ordinal","title":"weeks","bandPosition":0.45}}},
     {"mark":{"type":"point","opacity":0,"stroke":"black"},"encoding":{
       "shape":{"field":"series","type":"nominal","scale":{"domain":["IL6-KO CD4 T cells/GVH","IL6-KO CD4 T cells","B6 CD4 T cells/GVH","bm12"],"range":["M-2.2,0L-0.4,0M0.4,0L2.2,0M0,-0.7L0.74,0.58L-0.74,0.58Z","M-2.2,0L-0.4,0M0.4,0L2.2,0M0,-0.7L0.74,0.58L-0.74,0.58Z","M-2.2,0L-0.62,0M0.62,0L2.2,0M-0.62,-0.62L0.62,-0.62L0.62,0.62L-0.62,0.62Z","M-2.2,0L-0.68,0M0.68,0L2.2,0M-0.68,0A0.68,0.68,0,1,1,0.68,0A0.68,0.68,0,1,1,-0.68,0Z"]},
         "legend":{"title":null,"orient":"none","legendX":106,"legendY":21,"symbolSize":196,"symbolStrokeWidth":2,"symbolStrokeColor":"black","symbolOpacity":1,"labelFontSize":11,"labelColor":"#222","labelOffset":9,"rowPadding":3,"labelLimit":400,"padding":0,"encode":{"symbols":{"update":{"stroke":{"value":"black"},"strokeWidth":{"value":2},"opacity":{"value":1}}}}}},
       "fill":{"field":"series","type":"nominal","scale":{"domain":["IL6-KO CD4 T cells/GVH","IL6-KO CD4 T cells","B6 CD4 T cells/GVH","bm12"],"range":["black","white","black","white"]},
         "legend":{"title":null,"orient":"none","legendX":106,"legendY":21,"symbolSize":196,"symbolStrokeWidth":2,"symbolStrokeColor":"black","symbolOpacity":1,"labelFontSize":11,"labelColor":"#222","labelOffset":9,"rowPadding":3,"labelLimit":400,"padding":0,"encode":{"symbols":{"update":{"stroke":{"value":"black"},"strokeWidth":{"value":2},"opacity":{"value":1}}}}}}}}
    ]}
  ]}
 ]},
 {"width":24,"height":1,"data":{"values":[]},"mark":"rule","encoding":{}},
 {"width":3,"height":315,"view":{"fill":"black","stroke":null},"data":{"values":[]},"mark":"rule","encoding":{}}
]},
{"width":1041,"height":3,"view":{"fill":"black","stroke":null},"data":{"values":[]},"mark":"rule","encoding":{}}
]
}
